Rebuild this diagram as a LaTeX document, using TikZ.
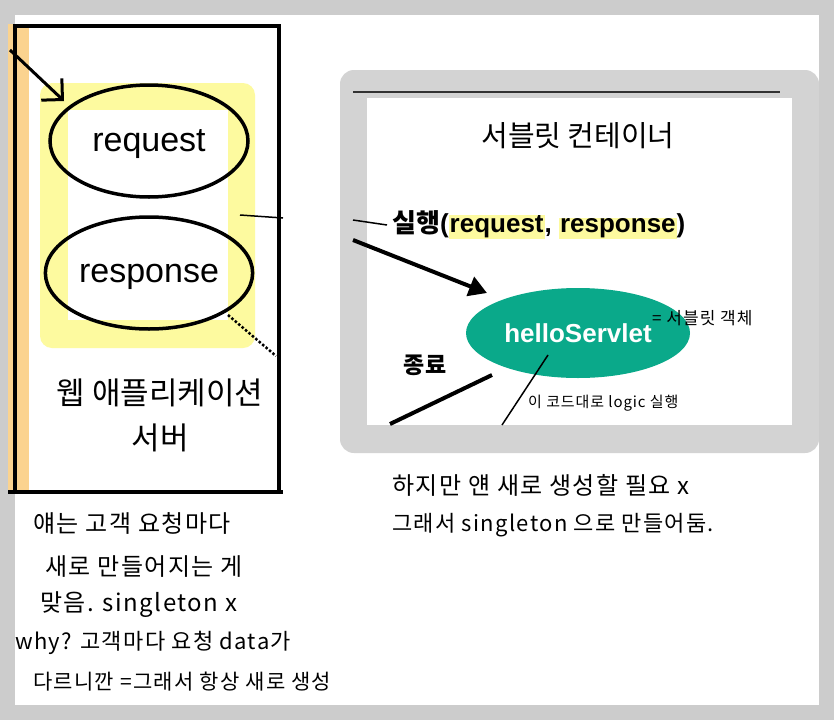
\documentclass[tikz,border=0pt]{standalone}
\usepackage{fontspec}
\setmainfont{Liberation Sans}
\newfontfamily\kr{Noto Sans CJK KR}
\newfontfamily\krhand[LetterSpace=6]{Noto Sans CJK KR}
\usetikzlibrary{arrows.meta,shapes.geometric}
\definecolor{pagegray}{HTML}{CCCCCC}
\definecolor{framegray}{HTML}{D3D3D3}
\definecolor{peach}{HTML}{FBD38F}
\definecolor{softyellow}{HTML}{FDFA9F}
\definecolor{servletgreen}{HTML}{0AA98A}
\newcommand{\hlword}[1]{{\setlength{\fboxsep}{1pt}\colorbox{softyellow}{#1}}}

\begin{document}
\begin{tikzpicture}[
    x=1pt, y=-1pt,
    oval/.style={
        ellipse,
        draw=black,
        line width=3.5pt,
        minimum width=198pt,
        minimum height=112pt,
        text depth=0pt,
        font=\fontsize{34}{40}\selectfont,
    },
    servlet/.style={
        ellipse,
        fill=servletgreen,
        minimum width=224pt,
        minimum height=90pt,
        text=white,
        font=\fontsize{26}{30}\selectfont\bfseries,
    },
    title/.style={
        font=\kr\fontsize{31}{38}\selectfont,
        inner sep=0pt,
    },
    hand/.style={
        font=\krhand\fontsize{24}{28}\selectfont,
        anchor=west,
        inner sep=0pt,
    },
    note/.style={
        hand,
        font=\krhand\fontsize{16}{20}\selectfont,
    },
]
\useasboundingbox (0,0) rectangle (834,720);
\fill[pagegray] (0,0) rectangle (834,720);
\fill[white] (15,15) rectangle (819,705);

% web application server
\fill[peach] (8,24) rectangle (29,492);
\draw[line width=4pt] (15,26) -- (279,26);
\draw[line width=4pt] (15,24) -- (15,492);
\draw[line width=4.5pt] (279,24) -- (279,492);
\draw[line width=4pt] (8,492) -- (283,492);
\fill[softyellow, rounded corners=12pt] (40,83) rectangle (255,348);
\fill[white] (68,110) rectangle (228,320);

\node[oval] (req) at (149,141) {request};
\node[oval] (res) at (149,273) {response};

\node[title] (was1) at (160,393) {웹 애플리케이션};
\node[title] (was2) at (160,438) {서버};

\coordinate (inStart) at (10,50);
\coordinate (inEnd) at (64,101);
\draw[line width=3pt, -{Straight Barb[length=15pt,width=30pt]}] (inStart) -- (inEnd);

\coordinate (linkA) at (240,215);
\coordinate (linkB) at (283,218);
\draw[line width=1.5pt] (linkA) -- (linkB);
\coordinate (dotA) at (228,315);
\coordinate (dotB) at (276,356);
\draw[line width=2.5pt, dotted] (dotA) -- (dotB);

% servlet container
\fill[framegray, rounded corners=14pt] (340,70) rectangle (819,453);
\fill[white] (367,98) rectangle (792,425);
\coordinate (barL) at (353,92);
\coordinate (barR) at (780,92);
\draw[line width=1.5pt, black!80] (barL) -- (barR);

\node[title, font=\kr\fontsize{29}{34}\selectfont] (container) at (578,136) {서블릿 컨테이너};

\node[anchor=west, inner sep=0pt, font=\fontsize{26}{30}\selectfont\bfseries] (call) at (392,225)
    {{\kr 실행}(\hlword{request}, \hlword{response})};
\coordinate (callLine) at (353,220);
\draw[line width=1.5pt] (callLine) -- ([xshift=-5pt]call.west);

\node[servlet] (hello) at (578,333) {helloServlet};

\coordinate (callStart) at (353,240);
\coordinate (callEnd) at (487,293);
\draw[line width=4pt, -{Triangle[length=18pt,width=20pt]}] (callStart) -- (callEnd);

\node[inner sep=0pt, font=\kr\fontsize{23}{28}\selectfont\bfseries] (stop) at (425,365) {종료};
\coordinate (stopA) at (492,375);
\coordinate (stopB) at (390,424);
\draw[line width=4pt] (stopA) -- (stopB);

\coordinate (logicA) at (548,355);
\coordinate (logicB) at (502,425);
\draw[line width=1.5pt] (logicA) -- (logicB);

\node[note, font=\krhand\fontsize{17}{20}\selectfont] (objNote) at (652,318) {= 서블릿 객체};
\node[note, font=\krhand\fontsize{15}{18}\selectfont] (logicNote) at (528,403) {이 코드대로 logic 실행};

% handwritten notes
\node[hand] (right1) at (392,485) {하지만 얜 새로 생성할 필요 x};
\node[hand, font=\krhand\fontsize{22}{26}\selectfont] (right2) at (392,525) {그래서 singleton 으로 만들어둠.};

\node[hand] (left1) at (33,523) {얘는 고객 요청마다};
\node[hand] (left2) at (45,567) {새로 만들어지는 게};
\node[hand] (left3) at (40,605) {맞음. singleton x};
\node[hand, font=\krhand\fontsize{22}{26}\selectfont] (left4) at (15,643) {why? 고객마다 요청 data가};
\node[hand, font=\krhand\fontsize{21}{24}\selectfont] (left5) at (33,682) {다르니깐 =그래서 항상 새로 생성};

\end{tikzpicture}
\end{document}
